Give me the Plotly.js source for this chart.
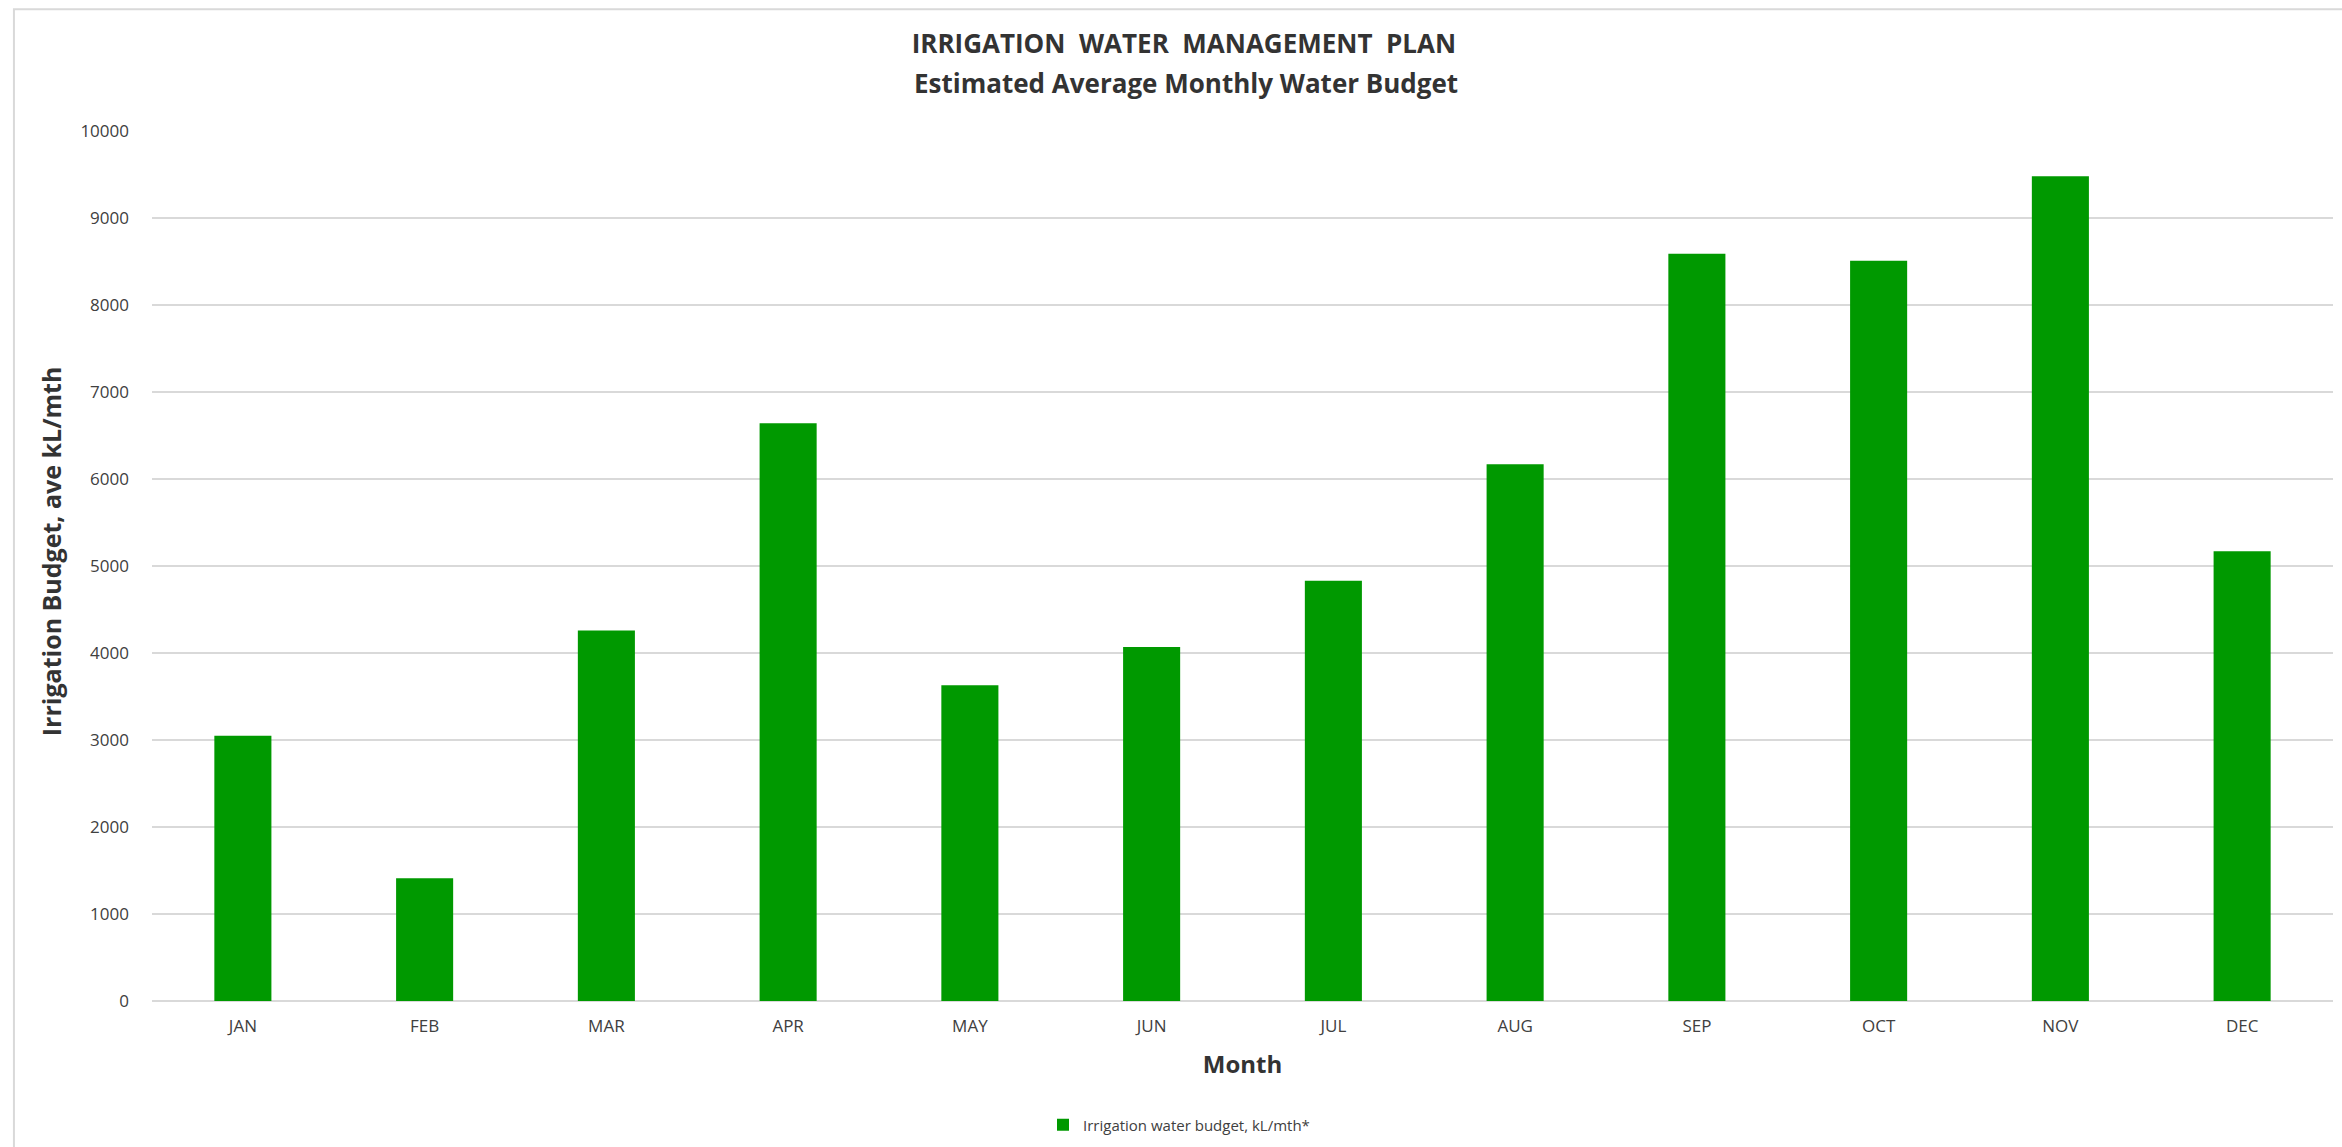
<!DOCTYPE html>
<html>
<head>
<meta charset="utf-8">
<script src="https://cdn.plot.ly/plotly-3.0.1.min.js"></script>
<style>
  html, body { margin: 0; padding: 0; background: #ffffff; }
  #chart { width: 2342px; height: 1147px; }
</style>
</head>
<body>
<div id="chart"></div>
<script>
const months = ["JAN", "FEB", "MAR", "APR", "MAY", "JUN", "JUL", "AUG", "SEP", "OCT", "NOV", "DEC"];
const budget = [3050, 1410, 4260, 6640, 3630, 4070, 4830, 6170, 8590, 8510, 9480, 5170];
const seriesName = "Irrigation water budget, kL/mth*";
const titleLine1 = "IRRIGATION  WATER  MANAGEMENT  PLAN";
const titleLine2 = "Estimated Average Monthly Water Budget";
const xTitle = "Month";
const yTitle = "Irrigation Budget, ave kL/mth";
const yTicks = [0, 1000, 2000, 3000, 4000, 5000, 6000, 7000, 8000, 9000, 10000];

const font = "'Open Sans', 'Noto Sans', sans-serif";

const trace = {
  type: "bar",
  x: months,
  y: budget,
  name: seriesName,
  marker: { color: "#009900" },
  showlegend: true,
  hoverinfo: "x+y"
};

const layout = {
  width: 2342,
  height: 1147,
  paper_bgcolor: "#ffffff",
  plot_bgcolor: "#ffffff",
  margin: { l: 152, r: 9, t: 131, b: 146, autoexpand: false },
  bargap: 0.686,
  font: { family: font, color: "#404040", size: 17 },
  title: {
    text: "<b>" + titleLine1.replace(/ /g, "&nbsp;") + "</b>",
    font: { family: font, size: 26, color: "#333333" },
    xref: "container", x: 0.5055, xanchor: "center",
    yref: "container", y: 1 - 44 / 1147, yanchor: "middle"
  },
  annotations: [
    {
      text: "<b>" + titleLine2 + "</b>",
      font: { family: font, size: 26, color: "#333333" },
      xref: "paper", yref: "paper",
      x: (1186 - 152) / 2181, y: (1001 - 83) / 870.3,
      xanchor: "center", yanchor: "middle",
      showarrow: false
    },
    {
      text: "<b>" + yTitle + "</b>",
      font: { family: font, size: 25, color: "#333333" },
      xref: "paper", yref: "paper",
      x: (51 - 152) / 2181, y: (1001 - 551) / 870.3,
      xanchor: "center", yanchor: "middle",
      textangle: -90,
      showarrow: false
    }
  ],
  xaxis: {
    type: "category",
    showgrid: false,
    showline: false,
    zeroline: false,
    ticks: "",
    tickfont: { family: font, size: 17, color: "#404040" },
    ticklabelstandoff: 13,
    title: { text: "<b>" + xTitle + "</b>", font: { family: font, size: 24, color: "#333333" }, standoff: 20 },
    automargin: false
  },
  yaxis: {
    range: [0, 10000],
    tickvals: yTicks,
    ticktext: yTicks.map(String),
    showgrid: true,
    gridcolor: "#d9d9d9",
    gridwidth: 1.3,
    zeroline: true,
    zerolinecolor: "#d9d9d9",
    zerolinewidth: 1.3,
    showline: false,
    ticks: "",
    tickfont: { family: font, size: 17, color: "#404040" },
    ticklabelstandoff: 22,
    automargin: false,
    fixedrange: true
  },
  legend: {
    orientation: "h",
    x: (1043 - 152) / 2181, xanchor: "left",
    y: (1001 - 1125) / 870.3, yanchor: "middle",
    font: { family: font, size: 15, color: "#404040" },
    bgcolor: "rgba(0,0,0,0)"
  },
  shapes: [
    {
      type: "path",
      xref: "paper", yref: "paper",
      path: "M -0.0633 -0.3 L -0.0633 1.1398 L 1.1 1.1398",
      line: { color: "#d9d9d9", width: 2 },
      layer: "below"
    }
  ]
};

Plotly.newPlot("chart", [trace], layout, { displayModeBar: false, staticPlot: true });
</script>
</body>
</html>
